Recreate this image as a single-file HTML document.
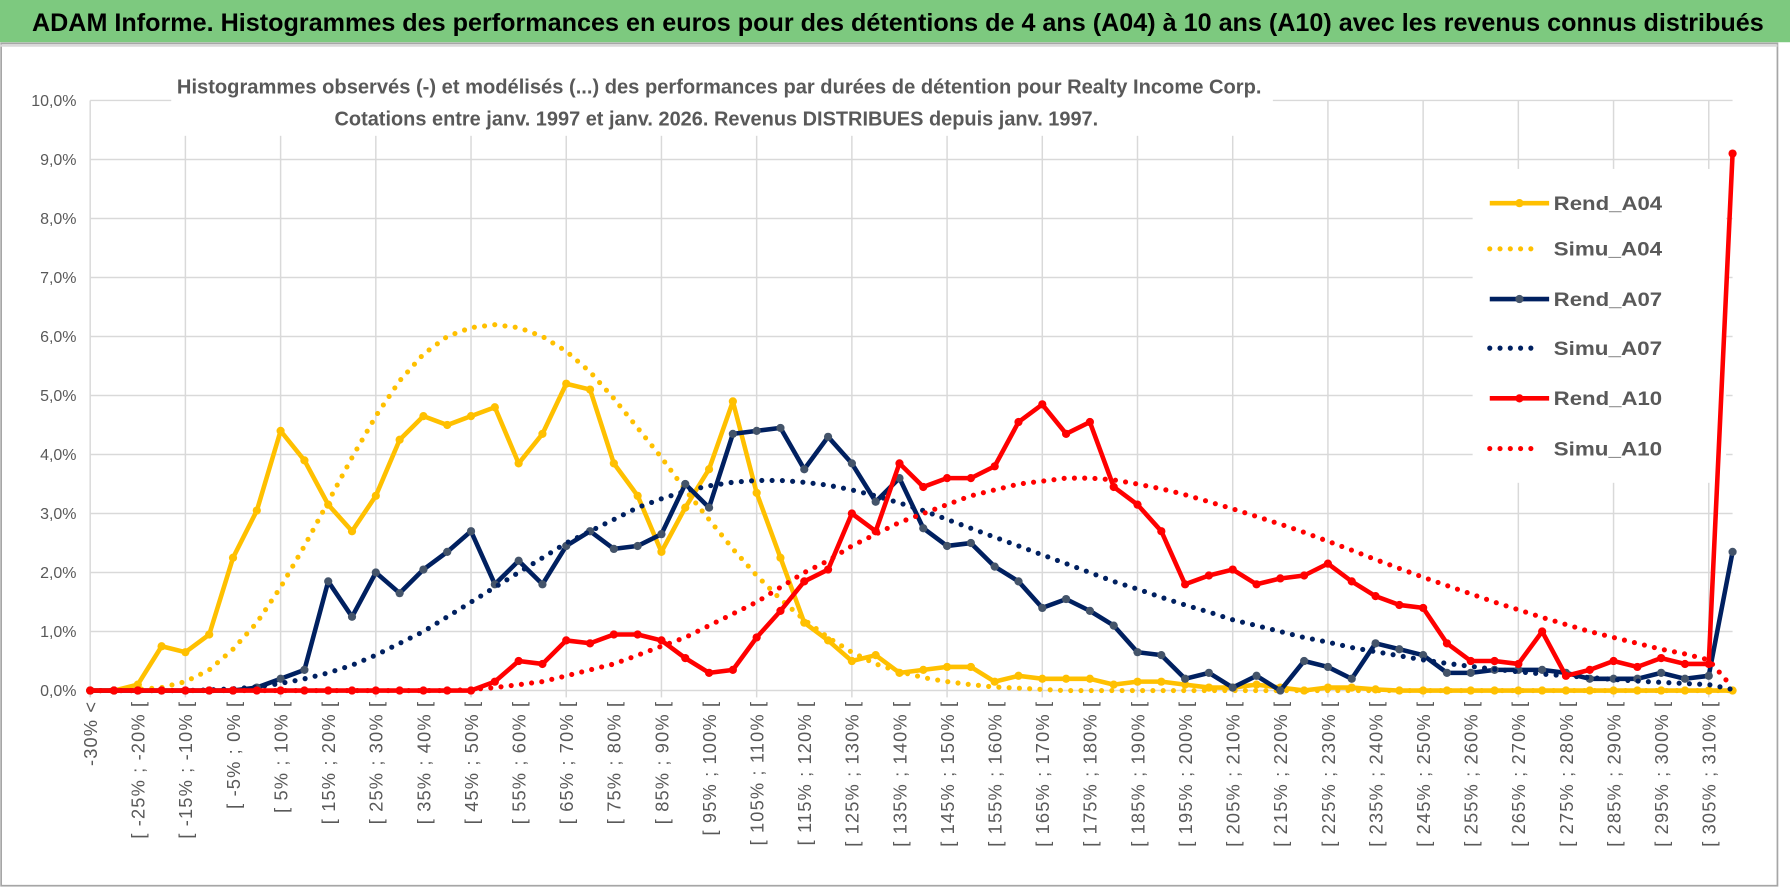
<!DOCTYPE html>
<html><head><meta charset="utf-8"><style>
html,body{margin:0;padding:0;background:#fff;}
svg{display:block;font-family:"Liberation Sans",sans-serif;}
</style></head><body>
<svg id="chart" width="1790" height="888" viewBox="0 0 1568 778" preserveAspectRatio="none" xmlns="http://www.w3.org/2000/svg">
<rect x="0" y="0" width="1568" height="778" fill="#fff"/>
<rect x="1" y="38" width="1556" height="738" fill="#fff" stroke="#a6a6a6" stroke-width="1.5"/>
<rect x="0" y="0" width="1568" height="37" fill="#7DC97F"/>
<line x1="0" y1="40" x2="1557" y2="40" stroke="#d9d9d9" stroke-width="2"/>
<text x="28" y="27" font-size="22" font-weight="bold" fill="#000" textLength="1517" lengthAdjust="spacingAndGlyphs">ADAM Informe. Histogrammes des performances en euros pour des détentions de 4 ans (A04) à 10 ans (A10) avec les revenus connus distribués</text>
<g id="grid"></g>
<rect x="150" y="55" width="965" height="64" fill="#fff"/>
<text x="155" y="82" font-size="18" font-weight="bold" fill="#595959" textLength="950" lengthAdjust="spacingAndGlyphs">Histogrammes observés (-) et modélisés (...) des performances par durées de détention pour Realty Income Corp.</text>
<text x="293" y="110" font-size="18" font-weight="bold" fill="#595959" textLength="669" lengthAdjust="spacingAndGlyphs">Cotations entre janv. 1997 et janv. 2026. Revenus DISTRIBUES depuis janv. 1997.</text>
<rect x="1290" y="148" width="222" height="275" fill="#fff"/>
<g id="series"></g>
<g id="legend"></g>
</svg>
<script>
const yTicks=[0,1,2,3,4,5,6,7,8,9,10];
const nCat=70;
const rendA04=[0,0,0.1,0.75,0.65,0.95,2.25,3.05,4.4,3.9,3.15,2.7,3.3,4.25,4.65,4.5,4.65,4.8,3.85,4.35,5.2,5.1,3.85,3.3,2.35,3.1,3.75,4.9,3.35,2.25,1.15,0.85,0.5,0.6,0.3,0.35,0.4,0.4,0.15,0.25,0.2,0.2,0.2,0.1,0.15,0.15,0.1,0.05,0.05,0.1,0.05,0,0.05,0.05,0.02,0,0,0,0,0,0,0,0,0,0,0,0,0,0,0];
const simuA04=[0,0,0.02,0.05,0.15,0.35,0.7,1.15,1.75,2.45,3.2,3.95,4.65,5.25,5.7,6.0,6.15,6.2,6.15,6.0,5.75,5.4,4.95,4.45,3.95,3.4,2.9,2.4,1.95,1.55,1.2,0.9,0.65,0.45,0.32,0.22,0.15,0.1,0.06,0.04,0.02,0,0,0,0,0,0,0,0,0,0,0,0,0,0,0,0,0,0,0,0,0,0,0,0,0,0,0,0,0];
const rendA07=[0,0,0,0,0,0,0,0.05,0.2,0.35,1.85,1.25,2.0,1.65,2.05,2.35,2.7,1.8,2.2,1.8,2.45,2.7,2.4,2.45,2.65,3.5,3.1,4.35,4.4,4.45,3.75,4.3,3.85,3.2,3.6,2.75,2.45,2.5,2.1,1.85,1.4,1.55,1.35,1.1,0.65,0.6,0.2,0.3,0.05,0.25,0,0.5,0.4,0.2,0.8,0.7,0.6,0.3,0.3,0.35,0.35,0.35,0.3,0.2,0.2,0.2,0.3,0.2,0.25,2.35];
const simuA07=[0,0,0,0,0,0.01,0.03,0.06,0.12,0.2,0.3,0.43,0.6,0.8,1.0,1.25,1.5,1.75,2.0,2.25,2.5,2.7,2.9,3.1,3.25,3.38,3.47,3.53,3.56,3.56,3.53,3.48,3.4,3.3,3.18,3.05,2.9,2.75,2.6,2.45,2.3,2.15,2.0,1.85,1.72,1.58,1.45,1.33,1.2,1.1,1.0,0.9,0.82,0.73,0.66,0.59,0.52,0.46,0.41,0.36,0.32,0.28,0.25,0.22,0.19,0.16,0.14,0.12,0.1,0.02];
const rendA10=[0,0,0,0,0,0,0,0,0,0,0,0,0,0,0,0,0,0.15,0.5,0.45,0.85,0.8,0.95,0.95,0.85,0.55,0.3,0.35,0.9,1.35,1.85,2.05,3.0,2.7,3.85,3.45,3.6,3.6,3.8,4.55,4.85,4.35,4.55,3.45,3.15,2.7,1.8,1.95,2.05,1.8,1.9,1.95,2.15,1.85,1.6,1.45,1.4,0.8,0.5,0.5,0.45,1.0,0.25,0.35,0.5,0.4,0.55,0.45,0.45,9.1];
const simuA10=[0,0,0,0,0,0,0,0,0,0,0,0,0,0,0,0,0.02,0.05,0.1,0.15,0.25,0.35,0.45,0.6,0.75,0.9,1.1,1.3,1.5,1.75,2.0,2.2,2.45,2.65,2.85,3.0,3.15,3.3,3.4,3.5,3.55,3.6,3.6,3.57,3.5,3.42,3.32,3.2,3.08,2.95,2.82,2.68,2.53,2.38,2.22,2.07,1.92,1.78,1.64,1.5,1.37,1.24,1.12,1.0,0.9,0.8,0.7,0.62,0.52,0.05];
const seriesNames=["Rend_A04","Simu_A04","Rend_A07","Simu_A07","Rend_A10","Simu_A10"];

const NS="http://www.w3.org/2000/svg";
const X0=79, X1=1517.7, Y0=605, Y1=88;
function xPos(i){return X0+i*(X1-X0)/(nCat-1);}
function yPos(v){return Y0-v*(Y0-Y1)/10;}
function mk(tag,attrs,parent){const e=document.createElementNS(NS,tag);for(const k in attrs)e.setAttribute(k,attrs[k]);parent.appendChild(e);return e;}
function catLabel(i){if(i===0)return "-30% <";const a=-30+5*(i-1);return "[ "+a+"% ; "+(a+5)+"% [";}

const grid=document.getElementById('grid');
yTicks.forEach(t=>{
  const l=mk('line',{x1:X0,x2:X1,y1:yPos(t),y2:yPos(t),stroke:'#d9d9d9','stroke-width':1.3},grid);
  
  
  const tx=mk('text',{x:67,y:yPos(t)+5,'text-anchor':'end','font-size':14,fill:'#595959'},grid);
  tx.textContent=t.toFixed(1).replace('.',',')+'%';
  
  
});
for(let i=0;i<nCat;i+=4){
  const l=mk('line',{x1:xPos(i),x2:xPos(i),y1:yPos(10),y2:Y0+6,stroke:'#d9d9d9','stroke-width':1.3},grid);
  
  
}
for(let i=0;i<nCat;i+=2){
  const x=xPos(i)+6, y=614;
  const tx=mk('text',{x:x,y:y,'text-anchor':'end','font-size':16,'letter-spacing':'1',fill:'#595959',transform:`rotate(-90 ${x} ${y})`},grid);
  tx.textContent=catLabel(i);
  
  
}

const sg=document.getElementById('series');
function pathD(vals){return vals.map((v,i)=>(i?'L':'M')+xPos(i).toFixed(1)+' '+yPos(v).toFixed(1)).join(' ');}
function solid(vals,color,mcol,name){
  const g=mk('g',{},sg);
  
  
  mk('path',{d:pathD(vals),fill:'none',stroke:color,'stroke-width':4,'stroke-linejoin':'round'},g);
  vals.forEach((v,i)=>{
    const c=mk('circle',{cx:xPos(i),cy:yPos(v),r:3.6,fill:mcol},g);
    
    
  });
}
function dotted(vals,color,name){
  const p=mk('path',{d:pathD(vals),fill:'none',stroke:color,'stroke-width':4.5,'stroke-linecap':'round','stroke-dasharray':'0 9'},sg);
  
  
}
solid(rendA04,'#FFC000','#FFC000','rend-a04-line');
dotted(simuA04,'#FFC000','simu-a04-line');
solid(rendA07,'#002060','#44546A','rend-a07-line');
dotted(simuA07,'#002060','simu-a07-line');
solid(rendA10,'#FF0000','#FF0000','rend-a10-line');
dotted(simuA10,'#FF0000','simu-a10-line');

const lg=document.getElementById('legend');
const legY=[178,218,262,305,349,393];
const legC=['#FFC000','#FFC000','#002060','#002060','#FF0000','#FF0000'];
const legM=['#FFC000','#FFC000','#44546A','#002060','#FF0000','#FF0000'];
seriesNames.forEach((n,k)=>{
  const g=mk('g',{},lg);
  
  
  const y=legY[k];
  if(k%2===0){
    mk('line',{x1:1305,x2:1357,y1:y,y2:y,stroke:legC[k],'stroke-width':4},g);
    mk('circle',{cx:1331,cy:y,r:3.6,fill:legM[k]},g);
  } else {
    mk('line',{x1:1305,x2:1350,y1:y,y2:y,stroke:legC[k],'stroke-width':4.5,'stroke-linecap':'round','stroke-dasharray':'0 9'},g);
  }
  const t=mk('text',{x:1361,y:y+6,'font-size':17,'font-weight':'bold',fill:'#595959',textLength:'95',lengthAdjust:'spacingAndGlyphs'},g);
  t.textContent=n;
});
</script>
</body></html>
